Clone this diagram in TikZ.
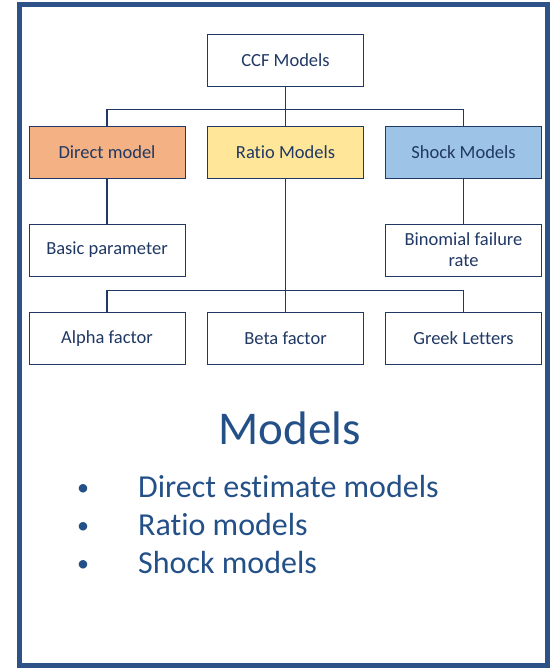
\documentclass[tikz,border=0pt]{standalone}
\usepackage{fontspec}
\setmainfont[Ligatures=NoCommon]{Carlito}
\usetikzlibrary{calc}
\definecolor{navy}{RGB}{32,56,100}
\definecolor{framecol}{RGB}{44,82,136}
\definecolor{titlecol}{RGB}{36,80,136}
\definecolor{orangefill}{RGB}{244,177,131}
\definecolor{yellowfill}{RGB}{255,230,153}
\definecolor{bluefill}{RGB}{157,195,230}
\tikzset{
  box/.style={draw=navy, line width=0.9pt, fill=white, text=navy,
    minimum width=156pt, minimum height=52pt, inner sep=2pt,
    align=center, font=\fontsize{18.5}{21}\selectfont},
  link/.style={draw=navy, line width=1.1pt},
  frame/.style={draw=framecol, line width=5pt},
  bigtext/.style={text=titlecol, inner sep=0pt},
}
\begin{document}
\begin{tikzpicture}[x=1pt,y=-1pt]
\useasboundingbox (0,0) rectangle (550,668);
\draw[frame] (19.5,4.5) rectangle (547.5,665.5);

% hierarchy of CCF models
\node[box] (ccf) at (285.5,60) {CCF Models};
\node[box, fill=orangefill] (direct) at (107,152) {Direct model};
\node[box, fill=yellowfill] (ratio) at (285.5,152) {Ratio Models};
\node[box, fill=bluefill] (shock) at (463.5,152) {Shock Models};
\node[box] (basic) at (107,250) {Basic parameter};
\node[box] (binom) at (463.5,250) {Binomial failure\\rate};
\node[box] (alpha) at (107,338.5) {Alpha factor};
\node[box] (beta) at (285.5,338.5) {Beta factor};
\node[box] (greek) at (463.5,338.5) {Greek Letters};

\draw[link] (ccf.south) -- (ratio.north);
\draw[link] (direct.north) -- ++(0,-16) -| (shock.north);
\draw[link] (direct.south) -- (basic.north);
\draw[link] (shock.south) -- (binom.north);
\draw[link] (ratio.south) -- (beta.north);
\draw[link] (alpha.north) -- ++(0,-21.5) -| (greek.north);

% summary text
\node[bigtext, anchor=base, font=\fontsize{47}{50}\selectfont] (title) at (289.5,444) {Models};
\foreach \y/\t [count=\i] in {497/Direct estimate models, 535/Ratio models, 573/Shock models}{
  \node[bigtext, anchor=base, font=\fontsize{24}{26}\selectfont] (dot\i) at (83,\y-2) {\textbullet};
  \node[bigtext, anchor=base west, font=\fontsize{32}{34}\selectfont] (item\i) at (138,\y) {\t};
}
\end{tikzpicture}
\end{document}
